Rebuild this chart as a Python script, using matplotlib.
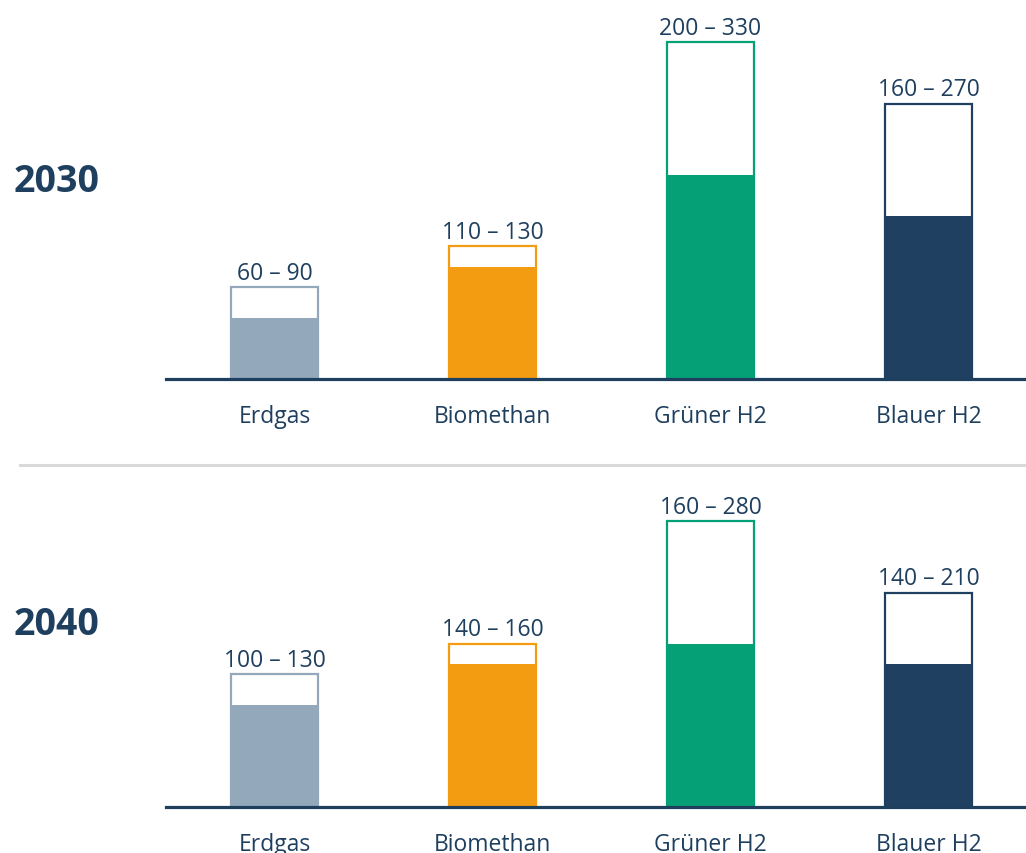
import matplotlib.pyplot as plt
from matplotlib.lines import Line2D

plt.rcParams['font.family'] = ['Open Sans', 'DejaVu Sans']

# cost ranges per energy carrier
categories = ['Erdgas', 'Biomethan', 'Grüner H2', 'Blauer H2']
years = ['2030', '2040']
low = {'2030': [60, 110, 200, 160], '2040': [100, 140, 160, 140]}
high = {'2030': [90, 130, 330, 270], '2040': [130, 160, 280, 210]}

colors = ['#94A8BB', '#F39C12', '#06A077', '#1F4060']
navy = '#1F3F5F'

W, H = 1026, 854
fig = plt.figure(figsize=(W / 100, H / 100), dpi=100)

px_per_unit = 1.02
panels = {'2030': (380, 380), '2040': (808, 340)}  # baseline y (px from top), height


def draw_panel(year):
    base, h = panels[year]
    ax = fig.add_axes([166 / W, (H - base) / H, 860 / W, h / H])
    x = range(len(categories))
    lo, hi = low[year], high[year]
    ax.bar(x, hi, width=0.4, color='white', edgecolor=colors, linewidth=1.6, zorder=2)
    ax.bar(x, lo, width=0.4 - 0.012, color=colors, linewidth=0, zorder=3)
    for xi, a, b in zip(x, lo, hi):
        ax.annotate(f'{a} – {b}', (xi, b), xytext=(0, 6), textcoords='offset points',
                    ha='center', va='baseline', fontsize=16.5, color=navy,
                    annotation_clip=False)
    ax.set_xlim(-0.498, 3.447)
    ax.set_ylim(0, h / px_per_unit)
    ax.set_xticks(list(x))
    ax.set_xticklabels(categories, fontsize=16.5, color=navy)
    ax.tick_params(axis='x', length=0, pad=18)
    ax.set_yticks([])
    for s in ['top', 'left', 'right']:
        ax.spines[s].set_visible(False)
    ax.spines['bottom'].set_color(navy)
    ax.spines['bottom'].set_linewidth(2.3)
    ax.spines['bottom'].set_zorder(4)
    ax.patch.set_alpha(0)
    return ax


for yr in years:
    draw_panel(yr)

fig.text(57 / W, 1 - 182 / H, '2030', ha='center', va='center',
         fontsize=27, fontweight='bold', color=navy)
fig.text(57 / W, 1 - 625 / H, '2040', ha='center', va='center',
         fontsize=27, fontweight='bold', color=navy)

# grey divider between the two years
fig.add_artist(Line2D([20 / W, 1], [1 - 466 / H, 1 - 466 / H], color='#D9D9D9',
                      linewidth=2.2, transform=fig.transFigure))

fig.savefig('out.png', dpi=100)
